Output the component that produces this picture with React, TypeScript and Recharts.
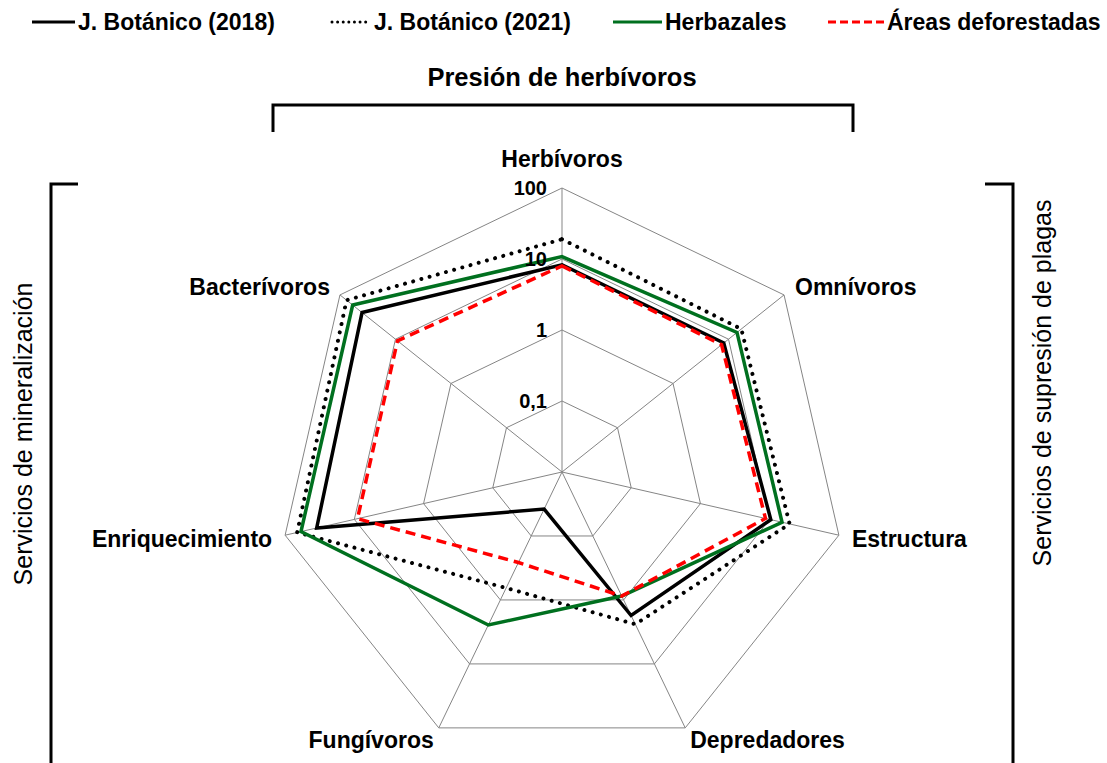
import { RadarChart, Radar, PolarGrid, PolarAngleAxis, PolarRadiusAxis } from "recharts"

// categories (clockwise from top)
const categories = ["Herbívoros", "Omnívoros", "Estructura", "Depredadores", "Fungívoros", "Enriquecimiento", "Bacterívoros"]

// series values (log scale)
const botanico2018 = [8.3, 8.2, 10.4, 1.75, 0.038, 35, 40]
const botanico2021 = [19, 17, 19.4, 2.4, 0.65, 67, 76]
const herbazales = [10.8, 14.2, 15.1, 0.87, 2.46, 59, 59]
const deforestadas = [8, 7.5, 8.7, 0.87, 0.26, 9, 9.2]

// radius ticks and their labels
const radiusTicks = [0.01, 0.1, 1, 10, 100]
const radiusTickLabels = ["", "0,1", "1", "10", "100"]

const data = categories.map((cat, i) => ({
  cat,
  b2018: botanico2018[i],
  b2021: botanico2021[i],
  herb: herbazales[i],
  def: deforestadas[i],
}))

const W = 1107
const H = 763
const CX = 562
const CY = 472
const R = 284
const FONT = "'Liberation Sans', Arial, sans-serif"
const GREEN = "#00701f"

// label placement around each outer vertex
const labelOffsets = [
  { dx: 0, dy: -29, anchor: "middle" },
  { dx: 11, dy: -8, anchor: "start" },
  { dx: 13, dy: 4, anchor: "start" },
  { dx: 5, dy: 12, anchor: "start" },
  { dx: -5, dy: 12, anchor: "end" },
  { dx: -13, dy: 4, anchor: "end" },
  { dx: -10, dy: -8, anchor: "end" },
]

function AngleTick(props: any) {
  const { payload, index } = props
  const ang = ((90 - (index * 360) / categories.length) * Math.PI) / 180
  const vx = CX + R * Math.cos(ang)
  const vy = CY - R * Math.sin(ang)
  const o = labelOffsets[index] || { dx: 0, dy: 0, anchor: "middle" }
  return (
    <text
      x={vx + o.dx}
      y={vy + o.dy}
      textAnchor={o.anchor}
      dominantBaseline="central"
      fontFamily={FONT}
      fontWeight="bold"
      fontSize={23}
      fill="#000"
    >
      {payload.value}
    </text>
  )
}

function RadiusTick(props: any) {
  const { x, y, payload } = props
  const idx = radiusTicks.indexOf(payload.value)
  const label = radiusTickLabels[idx]
  if (!label) return null
  return (
    <text
      x={x - 15}
      y={y}
      textAnchor="end"
      dominantBaseline="central"
      fontFamily={FONT}
      fontWeight="bold"
      fontSize={20}
      fill="#000"
    >
      {label}
    </text>
  )
}

const legendItems = [
  { name: "J. Botánico (2018)", x1: 32, x2: 75, gap: 3, color: "#000", dash: undefined, cap: "butt" },
  { name: "J. Botánico (2021)", x1: 332, x2: 366, gap: 8, color: "#000", dash: "0.01 5.6", cap: "round" },
  { name: "Herbazales", x1: 613, x2: 662, gap: 3, color: GREEN, dash: undefined, cap: "butt" },
  { name: "Áreas deforestadas", x1: 828, x2: 884, gap: 3, color: "#ff0000", dash: "8 4", cap: "butt" },
]

function Decorations() {
  return (
    <svg width={W} height={H} style={{ position: "absolute", left: 0, top: 0, pointerEvents: "none" }}>
      {/* legend */}
      {legendItems.map((it) => (
        <g key={it.name}>
          <line
            x1={it.x1}
            x2={it.x2}
            y1={22}
            y2={22}
            stroke={it.color}
            strokeWidth={3}
            strokeDasharray={it.dash}
            strokeLinecap={it.cap as any}
          />
          <text x={it.x2 + it.gap} y={22} dominantBaseline="central" fontFamily={FONT} fontWeight="bold" fontSize={23}>
            {it.name}
          </text>
        </g>
      ))}
      {/* top title and bracket */}
      <text x={562} y={77} textAnchor="middle" dominantBaseline="central" fontFamily={FONT} fontWeight="bold" fontSize={25.5}>
        Presión de herbívoros
      </text>
      <polyline points="273,132 273,105 853,105 853,132" fill="none" stroke="#000" strokeWidth={3} />
      {/* left bracket */}
      <polyline points="78,184 51,184 51,763" fill="none" stroke="#000" strokeWidth={3} />
      <text
        transform="translate(23,434) rotate(-90)"
        textAnchor="middle"
        dominantBaseline="central"
        fontFamily={FONT}
        fontSize={25}
      >
        Servicios de mineralización
      </text>
      {/* right bracket */}
      <polyline points="985,184 1013,184 1013,763" fill="none" stroke="#000" strokeWidth={3} />
      <text
        transform="translate(1042,383) rotate(-90)"
        textAnchor="middle"
        dominantBaseline="central"
        fontFamily={FONT}
        fontSize={25}
      >
        Servicios de supresión de plagas
      </text>
    </svg>
  )
}

export default function App() {
  return (
    <div style={{ position: "absolute", left: 0, top: 0, width: W, height: H, background: "#fff" }}>
      <RadarChart width={W} height={H} data={data} cx={CX} cy={CY} outerRadius={R} margin={{ top: 0, right: 0, bottom: 0, left: 0 }}>
        <PolarGrid gridType="polygon" stroke="#858585" strokeWidth={1} />
        <PolarAngleAxis dataKey="cat" tick={<AngleTick />} tickLine={false} axisLine={false} />
        <PolarRadiusAxis
          angle={90}
          scale="log"
          domain={[0.01, 100]}
          ticks={radiusTicks}
          allowDataOverflow
          axisLine={false}
          tickLine={false}
          tick={<RadiusTick />}
        />
        <Radar dataKey="b2018" name="J. Botánico (2018)" stroke="#000" strokeWidth={3.5} fill="none" fillOpacity={0} dot={false} isAnimationActive={false} />
        <Radar
          dataKey="b2021"
          name="J. Botánico (2021)"
          stroke="#000"
          strokeWidth={4}
          strokeDasharray="0.01 8.5"
          strokeLinecap="round"
          fill="none"
          fillOpacity={0}
          dot={false}
          isAnimationActive={false}
        />
        <Radar dataKey="herb" name="Herbazales" stroke={GREEN} strokeWidth={3.5} fill="none" fillOpacity={0} dot={false} isAnimationActive={false} />
        <Radar
          dataKey="def"
          name="Áreas deforestadas"
          stroke="#ff0000"
          strokeWidth={3.5}
          strokeDasharray="10 6"
          fill="none"
          fillOpacity={0}
          dot={false}
          isAnimationActive={false}
        />
      </RadarChart>
      <Decorations />
    </div>
  )
}
